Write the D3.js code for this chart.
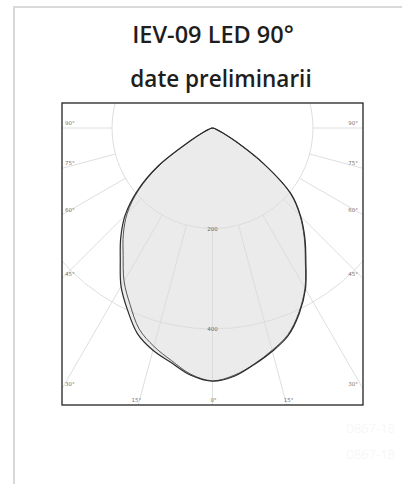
<!DOCTYPE html>
<html>
<head>
<meta charset="utf-8">
<script src="https://cdn.jsdelivr.net/npm/d3@7"></script>
<style>
  body { margin: 0; background: #fff; }
  svg { display: block; }
</style>
</head>
<body>
<svg width="402" height="484"></svg>
<script>
// DATA

var titleText = "IEV-09 LED 90°",
    subtitleText = "date preliminarii",
    codeText = "0867-18";

// angle from nadir, negative = left half of the plot
var angles = [-90, -85, -80, -75, -70, -65, -60, -55, -50, -45, -40, -35, -30, -25, -20, -15, -10, -5,
              0, 5, 10, 15, 20, 25, 30, 35, 40, 45, 50, 55, 60, 65, 70, 75, 80, 85, 90];

// candela, plane C0-C180
var planeC0 = [0, 1, 2, 4, 8, 20, 50, 132, 196, 246, 284, 320, 364, 400, 436, 458, 474, 494,
               504, 496, 478, 460, 440, 408, 370, 324, 286, 248, 204, 126, 54, 22, 8, 4, 2, 1, 0];

// candela, plane C90-C270
var planeC90 = [0, 1, 2, 4, 8, 20, 48, 128, 192, 240, 276, 310, 352, 388, 426, 450, 470, 492,
                503, 494, 477, 458, 438, 406, 368, 322, 284, 246, 202, 124, 52, 21, 8, 4, 2, 1, 0];

var ringValues = [200, 400];
var spokeAngles = [-90, -75, -60, -45, -30, -15, 0, 15, 30, 45, 60, 75, 90];
var spokeLabels = ["90°", "75°", "60°", "45°", "30°", "15°", "0°", "15°", "30°", "45°", "60°", "75°", "90°"];

// SETUP

var svg = d3.select("svg");

var frame = { left: 62, top: 103, right: 363, bottom: 405 },
    cx = (frame.left + frame.right) / 2,
    cy = 128;

var r = d3.scaleLinear().domain([0, 400]).range([0, 201]);

function rad(deg) { return deg * Math.PI / 180; }

// card border
svg.append("path")
    .attr("d", "M14,484 L14,7 L402,7")
    .attr("fill", "none")
    .attr("stroke", "#d9d9d9")
    .attr("stroke-width", 2);

// titles
svg.append("text")
    .attr("x", 213)
    .attr("y", 43)
    .attr("text-anchor", "middle")
    .attr("font-family", "'Open Sans', sans-serif")
    .attr("font-weight", 600)
    .attr("font-size", 23.5)
    .attr("fill", "#1e1e1e")
    .text(titleText);

svg.append("text")
    .attr("x", 221)
    .attr("y", 87)
    .attr("text-anchor", "middle")
    .attr("font-family", "'Open Sans', sans-serif")
    .attr("font-weight", 600)
    .attr("font-size", 22.5)
    .attr("fill", "#1e1e1e")
    .text(subtitleText);

// watermark codes
[433, 459].forEach(function (y) {
    svg.append("text")
        .attr("x", 395)
        .attr("y", y)
        .attr("text-anchor", "end")
        .attr("font-family", "'Open Sans', sans-serif")
        .attr("font-weight", 300)
        .attr("font-size", 13)
        .attr("fill", "#f4f4f4")
        .text(codeText);
});

// POLAR PLOT

svg.append("clipPath").attr("id", "frameClip")
  .append("rect")
    .attr("x", frame.left)
    .attr("y", frame.top)
    .attr("width", frame.right - frame.left)
    .attr("height", frame.bottom - frame.top);

var plot = svg.append("g").attr("clip-path", "url(#frameClip)");
var g = plot.append("g").attr("transform", "translate(" + cx + "," + cy + ")");

var line = d3.lineRadial()
    .angle(function (d) { return Math.PI - rad(d[0]); })
    .radius(function (d) { return r(d[1]); })
    .curve(d3.curveCatmullRom.alpha(0.5));

var c0 = angles.map(function (a, i) { return [a, planeC0[i]]; }),
    c90 = angles.map(function (a, i) { return [a, planeC90[i]]; });

// fill
g.append("path")
    .attr("d", line(c0) + "Z")
    .attr("fill", "#ebebeb")
    .attr("stroke", "none");

// rings
g.selectAll(".ring")
    .data(ringValues)
  .enter().append("circle")
    .attr("class", "ring")
    .attr("r", function (d) { return r(d); })
    .attr("fill", "none")
    .attr("stroke", "#dadada")
    .attr("stroke-width", 0.9);

// spokes, starting at the first ring
g.selectAll(".spoke")
    .data(spokeAngles)
  .enter().append("line")
    .attr("class", "spoke")
    .attr("x1", function (d) { return Math.sin(rad(d)) * r(ringValues[0]); })
    .attr("y1", function (d) { return Math.cos(rad(d)) * r(ringValues[0]); })
    .attr("x2", function (d) { return Math.sin(rad(d)) * 500; })
    .attr("y2", function (d) { return Math.cos(rad(d)) * 500; })
    .attr("stroke", "#dadada")
    .attr("stroke-width", 0.9);

// ring labels
g.selectAll(".ringLabel")
    .data(ringValues)
  .enter().append("text")
    .attr("class", "ringLabel")
    .attr("x", 0)
    .attr("y", function (d) { return r(d) + 2; })
    .attr("text-anchor", "middle")
    .attr("font-family", "'DejaVu Sans', sans-serif")
    .attr("font-size", 5.5)
    .attr("fill", "#666")
    .text(function (d) { return d; });

// curves
g.append("path")
    .attr("d", line(c90))
    .attr("fill", "none")
    .attr("stroke", "#555")
    .attr("stroke-width", 1);

g.append("path")
    .attr("d", line(c0))
    .attr("fill", "none")
    .attr("stroke", "#2b2b2b")
    .attr("stroke-width", 1.2);

// spoke labels where the rays leave the frame
var halfW = (frame.right - frame.left) / 2,
    depth = frame.bottom - cy;

spokeAngles.forEach(function (a, i) {
    var s = Math.sin(rad(a)), c = Math.cos(rad(a));
    var tSide = Math.abs(s) > 1e-6 ? halfW / Math.abs(s) : Infinity,
        tBot = c > 1e-6 ? depth / c : Infinity;
    var x, y, anchor;
    if (tSide < tBot) {
        y = cy + c * tSide - 3;
        if (s > 0) { x = frame.right - 5; anchor = "end"; }
        else { x = frame.left + 3; anchor = "start"; }
    } else {
        x = cx + s * tBot + (a > 0 ? 2 : a < 0 ? -2 : 1);
        y = frame.bottom - 3;
        anchor = "middle";
    }
    plot.append("text")
        .attr("x", x)
        .attr("y", y)
        .attr("text-anchor", anchor)
        .attr("font-family", "'DejaVu Sans', sans-serif")
        .attr("font-size", 5.5)
        .attr("fill", "#777")
        .text(spokeLabels[i]);
});

// frame
svg.append("rect")
    .attr("x", frame.left)
    .attr("y", frame.top)
    .attr("width", frame.right - frame.left)
    .attr("height", frame.bottom - frame.top)
    .attr("fill", "none")
    .attr("stroke", "#222")
    .attr("stroke-width", 1.3);
</script>
</body>
</html>
